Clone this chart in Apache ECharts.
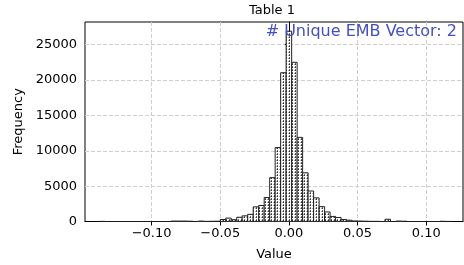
<!DOCTYPE html>
<html>
<head>
    <meta charset="UTF-8">
    <title>Table 1</title>
    <script src="https://cdn.jsdelivr.net/npm/echarts@6/dist/echarts.min.js"></script>
    <style>
        html, body { margin: 0; padding: 0; background: #fff; }
        #chart { width: 464px; height: 265px; }
    </style>
</head>
<body>
<div id="chart"></div>
<script type="text/javascript">
    // histogram bins: first bin centre and bin width
    var binStart = -0.136;
    var binWidth = 0.004;
    // counts per bin (64 bins)
    var counts = [
        20, 0, 0, 0, 0, 0, 0, 0, 0, 0, 0, 0, 0, 60, 60, 60, 40, 0, 60, 20, 30, 40,
        280, 480, 260, 600, 800, 1010, 2070, 2260, 3390, 6200, 10450, 21030,
        26900,
        22500, 11890, 6880, 4310, 3340, 2100, 1350, 720, 570, 280, 180, 80,
        60, 40, 20, 20, 0, 320, 0, 60, 40, 0, 0, 0, 0, 0, 0, 30, 10
    ];
    var xTicks = [-0.10, -0.05, 0.00, 0.05, 0.10];
    var xRange = [-0.1485, 0.1268];
    var yMax = 28200;
    var annotation = '# Unique EMB Vector: 2';

    var histData = [];
    for (var i = 0; i < counts.length; i++) {
        histData.push([binStart + i * binWidth, counts[i]]);
    }

    // dotted hatch like matplotlib '..'
    var tile = document.createElement('canvas');
    tile.width = 3; tile.height = 3;
    var ctx = tile.getContext('2d');
    ctx.fillStyle = '#fff';
    ctx.fillRect(0, 0, 3, 3);
    ctx.fillStyle = '#333';
    ctx.fillRect(1, 1, 1, 1);
    ctx.fillStyle = '#666';
    ctx.fillRect(1, 0, 1, 1);
    ctx.fillStyle = '#aaa';
    ctx.fillRect(0, 1, 1, 1);

    var chart = echarts.init(document.getElementById('chart'));
    var font = 'DejaVu Sans';

    var option = {
        animation: false,
        title: {
            text: 'Table 1',
            left: 249,
            top: 4,
            padding: 0,
            textStyle: { fontFamily: font, fontSize: 13, fontWeight: 'normal', color: '#000' }
        },
        grid: {
            left: 85, right: 1, top: 22, bottom: 43.5,
            outerBoundsMode: 'none',
            containLabel: false,
            show: true, borderColor: '#000', borderWidth: 1
        },
        xAxis: {
            type: 'value',
            min: xRange[0],
            max: xRange[1],
            name: 'Value',
            nameLocation: 'middle',
            nameGap: 27,
            nameTextStyle: { fontFamily: font, fontSize: 13, color: '#000' },
            axisLine: { onZero: false, lineStyle: { color: '#000' } },
            axisTick: { customValues: xTicks, length: 4, lineStyle: { color: '#000' } },
            axisLabel: {
                customValues: xTicks,
                fontFamily: font, fontSize: 13, color: '#000', margin: 6,
                formatter: function (v) {
                    var s = Math.abs(v).toFixed(2);
                    return (v < -1e-9 ? '\u2212' : '') + s;
                }
            },
            splitLine: { show: true, lineStyle: { color: '#cfcfcf', type: [4, 2] } }
        },
        yAxis: {
            type: 'value',
            min: 0,
            max: yMax,
            interval: 5000,
            name: 'Frequency',
            nameLocation: 'middle',
            nameGap: 52,
            nameTextStyle: { fontFamily: font, fontSize: 13, color: '#000' },
            axisLine: { show: true, lineStyle: { color: '#000' } },
            axisTick: { show: true, length: 4, lineStyle: { color: '#000' } },
            axisLabel: {
                fontFamily: font, fontSize: 13, color: '#000', margin: 8,
                showMaxLabel: false,
                formatter: function (v) { return String(v); }
            },
            splitLine: { show: true, showMaxLine: false, lineStyle: { color: '#cfcfcf', type: [4, 2] } }
        },
        graphic: [{
            type: 'text',
            right: 7,
            top: 24,
            z: 100,
            style: {
                text: annotation,
                fill: '#4450c2',
                font: '16px "DejaVu Sans"'
            }
        }],
        series: [{
            type: 'custom',
            data: histData,
            clip: true,
            renderItem: function (params, api) {
                var x = api.value(0);
                var y = api.value(1);
                var p0 = api.coord([x - binWidth / 2, y]);
                var p1 = api.coord([x + binWidth / 2, 0]);
                return {
                    type: 'rect',
                    shape: { x: p0[0], y: p0[1], width: p1[0] - p0[0], height: p1[1] - p0[1] },
                    style: {
                        fill: { image: tile, repeat: 'repeat' },
                        stroke: '#222',
                        lineWidth: 1
                    }
                };
            }
        }]
    };
    chart.setOption(option);
</script>
</body>
</html>
